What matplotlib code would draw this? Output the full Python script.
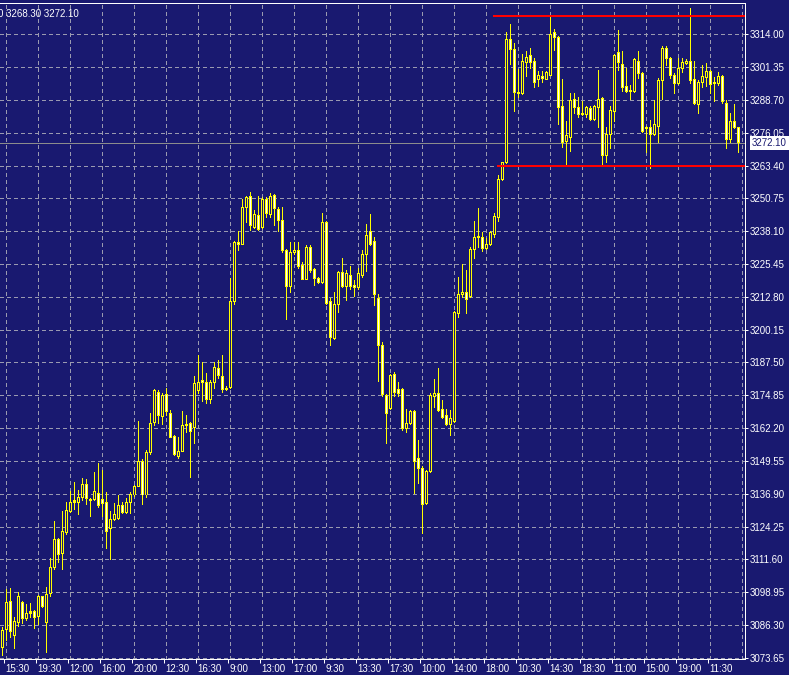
import matplotlib
matplotlib.use("Agg")
import matplotlib.pyplot as plt
from matplotlib.transforms import ScaledTranslation, blended_transform_factory

# ---------------- data ----------------
opens = [
    3077.8, 3084.7, 3095.5, 3082.4, 3087.4, 3095.1, 3088.6, 3091.3, 3091.3, 3089.7,
    3097.1, 3087.4, 3098.6, 3108.6, 3119.4, 3114.0, 3122.1, 3130.2, 3133.7, 3133.7,
    3135.6, 3140.6, 3134.8, 3134.8, 3137.1, 3134.8, 3133.7, 3123.3, 3127.1, 3127.5,
    3132.5, 3129.8, 3133.7, 3136.4, 3139.8, 3149.5, 3136.4, 3152.6, 3164.5, 3176.1,
    3166.8, 3175.3, 3168.0, 3159.1, 3151.4, 3153.3, 3163.2, 3164.1, 3162.6, 3176.5,
    3180.7, 3179.6, 3173.4, 3179.9, 3185.3, 3181.9, 3177.6, 3178.0, 3210.8, 3233.9,
    3233.1, 3247.4, 3251.6, 3239.7, 3244.3, 3239.7, 3250.5, 3244.7, 3252.0, 3246.6,
    3242.4, 3230.8, 3216.9, 3229.7, 3230.8, 3224.7, 3219.6, 3232.0, 3223.5, 3220.0,
    3218.5, 3241.6, 3210.8, 3196.9, 3210.0, 3222.0, 3216.6, 3221.2, 3217.3, 3216.2,
    3221.2, 3229.3, 3237.8, 3234.3, 3212.3, 3194.2, 3174.9, 3169.9, 3183.0, 3177.2,
    3177.2, 3162.2, 3164.1, 3168.4, 3150.3, 3146.8, 3133.3, 3145.6, 3174.5, 3175.7,
    3169.5, 3167.2, 3163.7, 3164.9, 3206.2, 3213.5, 3214.6, 3213.1, 3231.2, 3236.2,
    3235.8, 3231.6, 3232.8, 3237.0, 3243.5, 3258.2, 3264.4, 3311.8, 3308.3, 3291.7,
    3291.3, 3303.3, 3306.0, 3303.7, 3296.4, 3297.9, 3296.7, 3298.3, 3314.5, 3312.9,
    3286.3, 3272.8, 3274.4, 3289.0, 3285.6, 3283.3, 3282.9, 3285.2, 3281.3, 3285.6,
    3289.4, 3267.1, 3275.5, 3284.4, 3306.8, 3302.5, 3294.0, 3292.5, 3292.1, 3303.7,
    3298.7, 3277.5, 3278.2, 3275.5, 3278.6, 3296.0, 3308.7, 3304.8, 3298.3, 3295.2,
    3301.0, 3302.9, 3303.7, 3296.7, 3287.1, 3295.6, 3297.5, 3299.8, 3295.6, 3295.2,
    3297.9, 3287.5, 3273.6, 3280.2, 3277.9,
]

highs = [
    3085.5, 3100.1, 3100.5, 3089.0, 3099.0, 3095.5, 3094.0, 3094.4, 3092.0, 3097.8,
    3097.4, 3100.9, 3112.1, 3126.0, 3119.8, 3130.2, 3133.7, 3137.9, 3141.4, 3138.3,
    3142.9, 3142.2, 3135.2, 3145.2, 3148.7, 3146.0, 3137.5, 3130.2, 3133.3, 3136.4,
    3133.7, 3135.2, 3137.5, 3140.2, 3164.9, 3149.9, 3153.7, 3168.0, 3177.2, 3176.5,
    3175.7, 3177.6, 3169.1, 3159.5, 3158.7, 3168.4, 3167.2, 3164.5, 3181.9, 3190.3,
    3187.6, 3183.4, 3180.7, 3187.6, 3188.4, 3190.3, 3178.4, 3220.0, 3234.3, 3237.8,
    3250.5, 3251.3, 3253.2, 3246.2, 3251.3, 3250.9, 3250.9, 3252.8, 3252.4, 3247.4,
    3247.4, 3231.2, 3233.9, 3233.9, 3233.9, 3226.2, 3232.4, 3232.4, 3223.9, 3220.4,
    3245.1, 3242.0, 3212.3, 3214.6, 3222.4, 3227.4, 3223.1, 3224.3, 3218.9, 3223.9,
    3230.8, 3240.8, 3244.7, 3235.8, 3213.5, 3195.0, 3175.3, 3183.0, 3183.8, 3179.6,
    3177.6, 3169.5, 3169.1, 3168.8, 3157.6, 3147.2, 3146.0, 3175.7, 3181.1, 3185.3,
    3173.0, 3169.5, 3169.1, 3207.3, 3220.4, 3225.4, 3223.1, 3232.0, 3242.0, 3247.0,
    3237.4, 3235.1, 3237.8, 3245.1, 3259.4, 3264.7, 3314.5, 3317.6, 3310.6, 3300.6,
    3306.4, 3307.2, 3308.7, 3304.5, 3299.8, 3299.8, 3299.8, 3320.6, 3316.0, 3313.3,
    3296.7, 3280.2, 3291.0, 3291.0, 3289.8, 3287.9, 3286.0, 3286.0, 3286.4, 3300.2,
    3289.8, 3277.9, 3286.0, 3306.4, 3315.6, 3307.2, 3301.0, 3294.4, 3304.5, 3307.2,
    3299.1, 3278.6, 3280.6, 3288.3, 3297.1, 3309.1, 3309.1, 3305.2, 3298.7, 3304.5,
    3304.8, 3304.1, 3324.1, 3303.7, 3296.0, 3302.1, 3302.9, 3300.2, 3297.5, 3299.1,
    3298.3, 3288.6, 3283.6, 3287.1, 3278.2,
]

lows = [
    3074.7, 3080.5, 3081.6, 3077.4, 3085.9, 3087.0, 3088.2, 3089.3, 3085.1, 3086.6,
    3093.2, 3075.5, 3097.4, 3107.5, 3110.5, 3107.5, 3121.0, 3129.8, 3131.0, 3128.7,
    3134.4, 3132.9, 3128.3, 3134.4, 3131.4, 3128.3, 3115.6, 3111.7, 3126.7, 3127.1,
    3129.3, 3129.1, 3129.4, 3136.0, 3139.5, 3132.9, 3135.6, 3152.2, 3163.0, 3164.1,
    3163.7, 3167.2, 3158.4, 3151.8, 3150.3, 3153.0, 3160.3, 3143.3, 3156.4, 3175.7,
    3172.6, 3171.8, 3171.8, 3177.6, 3181.5, 3176.1, 3176.5, 3177.6, 3210.0, 3230.8,
    3232.8, 3241.6, 3238.5, 3239.3, 3238.5, 3239.3, 3243.2, 3243.2, 3240.1, 3238.1,
    3229.7, 3204.2, 3214.6, 3229.3, 3223.9, 3219.3, 3219.3, 3222.0, 3217.3, 3218.1,
    3218.1, 3210.0, 3194.2, 3196.5, 3206.9, 3216.2, 3211.5, 3215.8, 3213.1, 3215.8,
    3220.4, 3222.7, 3232.4, 3209.6, 3180.3, 3174.5, 3156.4, 3169.5, 3174.2, 3174.2,
    3161.1, 3160.3, 3163.4, 3137.1, 3141.0, 3121.7, 3132.9, 3145.2, 3170.3, 3168.6,
    3165.7, 3163.0, 3159.5, 3164.5, 3205.0, 3212.7, 3206.2, 3212.7, 3227.7, 3232.0,
    3230.1, 3231.2, 3232.4, 3235.8, 3242.0, 3257.8, 3264.0, 3302.5, 3284.4, 3289.8,
    3290.9, 3297.9, 3301.0, 3293.3, 3294.0, 3295.6, 3296.4, 3298.0, 3307.9, 3279.4,
    3270.5, 3263.6, 3269.0, 3283.6, 3282.1, 3282.5, 3282.1, 3280.6, 3280.9, 3278.2,
    3263.6, 3264.7, 3270.1, 3280.2, 3300.2, 3292.1, 3291.7, 3289.0, 3291.7, 3297.1,
    3276.3, 3268.6, 3262.4, 3275.1, 3272.1, 3289.0, 3302.1, 3297.1, 3291.3, 3294.8,
    3299.1, 3302.5, 3295.2, 3287.1, 3283.6, 3293.3, 3294.0, 3291.3, 3287.9, 3294.4,
    3287.5, 3270.1, 3272.1, 3277.5, 3268.3,
]

closes = [
    3084.3, 3095.1, 3083.9, 3087.8, 3097.4, 3088.6, 3090.9, 3090.9, 3089.3, 3097.1,
    3093.6, 3098.2, 3108.6, 3119.4, 3113.6, 3122.5, 3130.6, 3133.7, 3134.1, 3135.6,
    3140.6, 3135.2, 3134.1, 3137.9, 3132.5, 3133.3, 3122.5, 3127.1, 3128.7, 3132.5,
    3129.8, 3133.7, 3136.4, 3139.8, 3149.5, 3136.4, 3152.6, 3164.1, 3176.5, 3167.2,
    3174.9, 3168.4, 3158.7, 3152.2, 3153.3, 3163.0, 3163.6, 3160.7, 3179.2, 3179.9,
    3179.6, 3173.4, 3179.6, 3185.7, 3182.3, 3177.2, 3176.9, 3210.8, 3233.9, 3232.8,
    3247.4, 3250.9, 3240.1, 3244.7, 3238.9, 3250.5, 3245.1, 3251.6, 3247.0, 3242.4,
    3230.8, 3216.9, 3229.7, 3230.8, 3224.3, 3219.6, 3232.0, 3223.1, 3220.0, 3218.5,
    3241.6, 3210.4, 3197.3, 3210.0, 3222.0, 3216.6, 3221.6, 3216.9, 3216.2, 3221.6,
    3229.3, 3236.6, 3232.8, 3213.5, 3194.2, 3175.3, 3168.0, 3182.6, 3176.1, 3175.7,
    3162.2, 3164.1, 3168.4, 3149.5, 3146.8, 3132.9, 3145.6, 3174.9, 3175.7, 3168.8,
    3166.4, 3163.4, 3165.7, 3206.9, 3213.5, 3214.6, 3211.9, 3231.2, 3235.8, 3235.5,
    3231.6, 3233.1, 3237.4, 3243.9, 3258.2, 3264.4, 3311.8, 3308.3, 3291.7, 3291.3,
    3303.7, 3305.2, 3303.3, 3295.6, 3298.3, 3297.1, 3299.4, 3314.1, 3312.6, 3285.6,
    3272.1, 3274.8, 3288.6, 3285.6, 3282.9, 3282.9, 3285.6, 3281.3, 3286.0, 3289.0,
    3267.1, 3275.5, 3284.8, 3306.0, 3303.3, 3293.3, 3292.1, 3292.1, 3304.1, 3298.7,
    3276.7, 3278.2, 3275.5, 3279.4, 3296.0, 3308.7, 3304.5, 3298.3, 3295.2, 3301.0,
    3303.3, 3303.7, 3296.0, 3287.5, 3295.6, 3297.9, 3299.8, 3294.8, 3295.2, 3297.9,
    3287.9, 3273.6, 3280.2, 3277.9, 3272.1,
]

time_labels = ["15:30", "19:30", "12:00", "16:00", "20:00", "12:30", "16:30", "9:00",
               "13:00", "17:00", "9:30", "13:30", "17:30", "10:00", "14:00", "18:00",
               "10:30", "14:30", "18:30", "11:00", "15:00", "19:00", "11:30"]
price_ticks = [3073.65, 3086.30, 3098.95, 3111.60, 3124.25, 3136.90, 3149.55,
               3162.20, 3174.85, 3187.50, 3200.15, 3212.80, 3225.45, 3238.10,
               3250.75, 3263.40, 3276.05, 3288.70, 3301.35, 3314.00]
last_price = 3272.10
header_text = "0 3268.30 3272.10"
resistance_level = 3321.2
support_level = 3263.40
resistance_start_bar = 122.6
support_start_bar = 123.6

# ---------------- style ----------------
BG = "#191970"
YEL = "#ffff00"
GRID = "#9a9ab0"
FONT = ["Liberation Sans", "DejaVu Sans"]
W, H = 789, 675
DPI = 100
PX = 72.0 / DPI  # one pixel in points

fig = plt.figure(figsize=(W / DPI, H / DPI), dpi=DPI, facecolor=BG)
ax = fig.add_axes([0, 16 / H, 745 / W, 656 / H], facecolor=BG)

n = len(closes)
xs = list(range(n))

YMIN, YMAX = 3073.18, 3326.06
ax.set_xlim(-0.625, 185.625)
ax.set_ylim(YMIN, YMAX)
price_per_px = (YMAX - YMIN) / 656.0

# grid
bars_per_grid = 8
grid_x = [0.875 + bars_per_grid * k for k in range(24)]
for gx in grid_x:
    ax.axvline(gx, color=GRID, lw=PX, ls=(0, (3, 3)), zorder=1, antialiased=False)
for py in price_ticks:
    ax.axhline(py, color=GRID, lw=PX, ls=(0, (3, 3)), zorder=1, antialiased=False)

# current price line
ax.axhline(last_price, color="#8c8c8c", lw=PX, zorder=2, antialiased=False)

# candles: wicks, then 3px yellow body, then 1px inner fill
ax.vlines(xs, lows, highs, color=YEL, lw=PX, zorder=3, antialiased=False, snap=False)
bottoms = [min(o, c) for o, c in zip(opens, closes)]
tops = [max(o, c) for o, c in zip(opens, closes)]
outer_b = [b - 0.5 * price_per_px for b in bottoms]
outer_h = [max(t - b, 0) + price_per_px for b, t in zip(bottoms, tops)]
ax.bar(xs, outer_h, bottom=outer_b, width=0.75, color=YEL, linewidth=0,
       zorder=4, antialiased=False)
inner_x, inner_b, inner_h, inner_c = [], [], [], []
for i, (o, c, b, t) in enumerate(zip(opens, closes, bottoms, tops)):
    h = t - b - price_per_px
    if h > 0.5 * price_per_px:
        inner_x.append(i)
        inner_b.append(b + 0.5 * price_per_px)
        inner_h.append(h)
        inner_c.append(BG if c >= o else "white")
ax.bar(inner_x, inner_h, bottom=inner_b, width=0.25, color=inner_c, linewidth=0,
       zorder=5, antialiased=False)

# horizontal levels (red)
ax.hlines(resistance_level, resistance_start_bar, 186, color="#ff0000", lw=2 * PX, zorder=6)
ax.hlines(support_level, support_start_bar, 186, color="#ff0000", lw=2 * PX, zorder=6)

# spines
for side in ["top", "right", "bottom"]:
    ax.spines[side].set_color("white")
    ax.spines[side].set_linewidth(PX)
ax.spines["left"].set_visible(False)

# y axis on right
ax.yaxis.tick_right()
ax.set_yticks(price_ticks)
ax.set_yticklabels([f"{p:.2f}" for p in price_ticks])
ax.tick_params(axis="y", colors="white", length=3 * PX, width=PX, pad=1.2,
               labelsize=7, direction="out")
for lab in ax.get_yticklabels():
    lab.set_family(FONT)

# x axis ticks / labels
label_x = [g - 0.5 for g in grid_x[:len(time_labels)]]
ax.set_xticks(label_x)
ax.set_xticklabels(time_labels)
ax.tick_params(axis="x", colors="white", length=4 * PX, width=PX, pad=0.5,
               labelsize=7, direction="out")
offset = ScaledTranslation(1.5 / DPI, 0, fig.dpi_scale_trans)
for lab in ax.get_xticklabels():
    lab.set_family(FONT)
    lab.set_horizontalalignment("left")
    lab.set_transform(lab.get_transform() + offset)

# current price tag
tr = blended_transform_factory(ax.transAxes, ax.transData)
ax.text(1.0 + 7 / 745, last_price, f"{last_price:.2f}", transform=tr, ha="left",
        va="center", fontsize=7, family=FONT, color=BG, clip_on=False,
        bbox=dict(boxstyle="square,pad=0.2", facecolor="white", edgecolor="none"))

# header (its first character is cut by the left edge, as in the reference)
fig.text(-2 / W, 1 - 14 / H, header_text, ha="left", va="center", fontsize=7,
         family=FONT, color="white")

fig.savefig("out.png", dpi=DPI, facecolor=BG)
